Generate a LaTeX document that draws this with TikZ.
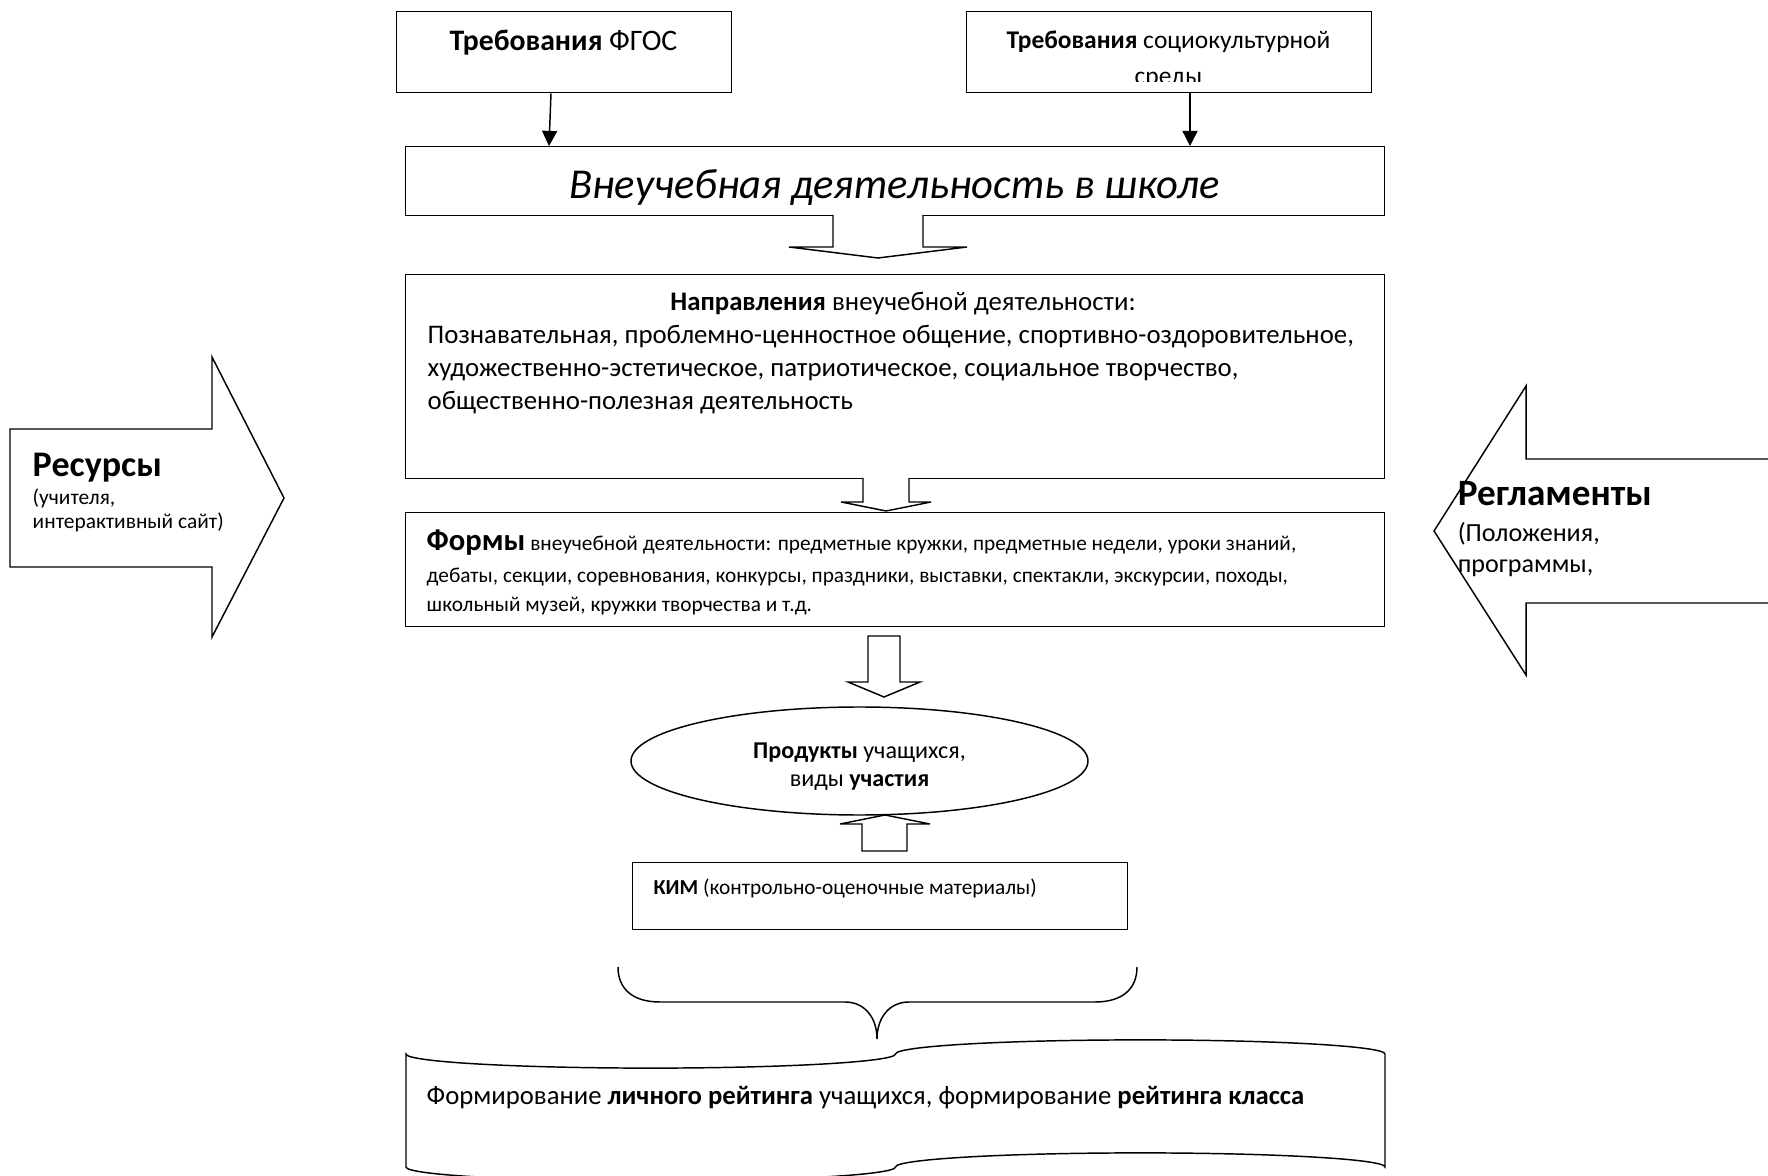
\documentclass[tikz,border=0pt]{standalone}
\usepackage{fontspec}
\setmainfont{Carlito}
\usetikzlibrary{arrows.meta,shapes.geometric,calc}
\def\pxu{0.444pt}
\newcommand\fsz[1]{\fontsize{#1}{#1}\selectfont}
\begin{document}
\begin{tikzpicture}[x=0.444pt,y=-0.444pt,
  line width=0.65pt,
  boxst/.style={draw, rectangle, inner sep=0pt, anchor=north west},
  lbl/.style={inner sep=0pt, anchor=base},
  lblw/.style={inner sep=0pt, anchor=base west},
  conn/.style={-{Triangle[width=6.7pt,length=6.7pt]}},
  blockarr/.style={draw, fill=white, line join=miter},
]
\useasboundingbox (0,0) rectangle (1768,1176);
\fill[white] (0,0) rectangle (1768,1176);
\clip (0,0) rectangle (1768,1176);

% top boxes
\node[boxst, minimum width=335*\pxu, minimum height=81*\pxu] (fgos) at (396,11) {};
\node[boxst, minimum width=405*\pxu, minimum height=81*\pxu] (soc) at (966,11) {};
\node[lbl, font=\fsz{13.2}] (tfgos) at (563.5,51) {\textbf{Требования} ФГОС};
\node[lbl, font=\fsz{11.3}] (tsoc) at (1168.5,49) {\textbf{Требования} социокультурной};
\begin{scope}
\clip (966,60) rectangle (1371,82);
\node[lbl, font=\fsz{11.3}] (tsred) at (1168.5,85) {среды};
\end{scope}

% main box
\node[boxst, minimum width=979*\pxu, minimum height=69*\pxu] (mainbox) at (405,146) {};
\node[lbl, font=\fsz{18.9}] (tmain) at (894.5,199) {\itshape Внеучебная деятельность в школе};

% connectors
\draw[conn] ($(fgos.south west)+(155,0)$) -- ($(mainbox.north west)+(144,0)$);
\draw[conn] ($(soc.south west)+(224,0)$) -- ($(mainbox.north west)+(785,0)$);

% block arrow 1
\draw[blockarr] (833,215) -- (833,247) -- (789,247) -- (878,258) -- (967,247) -- (923,247) -- (923,215);

% directions box
\node[boxst, minimum width=979*\pxu, minimum height=204*\pxu] (dirbox) at (405,274) {};
\node[lbl, font=\fsz{11.9}] (tdir0) at (903,311) {\textbf{Направления} внеучебной деятельности:};
\node[lblw, font=\fsz{11.9}] (tdir1) at (427,344) {Познавательная, проблемно-ценностное общение, спортивно-оздоровительное,};
\node[lblw, font=\fsz{11.9}] (tdir2) at (427,377) {художественно-эстетическое, патриотическое, социальное творчество,};
\node[lblw, font=\fsz{11.9}] (tdir3) at (427,410) {общественно-полезная деятельность};

% block arrow 2
\draw[blockarr] (863,478) -- (863,502) -- (841,502) -- (886,511) -- (931,502) -- (909,502) -- (909,478);

% forms box
\node[boxst, minimum width=979*\pxu, minimum height=114*\pxu] (formbox) at (405,512) {};
\node[lblw, font=\fsz{9.45}] (tform1) at (426,551) {{\fsz{13.6}\textbf{Формы}} внеучебной деятельности: предметные кружки, предметные недели, уроки знаний,};
\node[lblw, font=\fsz{9.45}] (tform2) at (426,583) {дебаты, секции, соревнования, конкурсы, праздники, выставки, спектакли, экскурсии, походы,};
\node[lblw, font=\fsz{9.45}] (tform3) at (426,612) {школьный музей, кружки творчества и т.д.};

% block arrow 3
\draw[blockarr] (868,636) -- (868,682) -- (848,682) -- (884,697) -- (920,682) -- (900,682) -- (900,636) -- cycle;

% ellipse
\node[draw, ellipse, inner sep=0pt, minimum width=457*\pxu, minimum height=108*\pxu] (prod) at (859.5,761) {};
\node[lbl, font=\fsz{10.7}] (tprod1) at (859.5,759) {\textbf{Продукты} учащихся,};
\node[lbl, font=\fsz{10.7}] (tprod2) at (859.5,786) {виды \textbf{участия}};

% block arrow 4 (up)
\draw[blockarr] (862,851) -- (862,824) -- (840,824) -- (885,815) -- (930,824) -- (907,824) -- (907,851) -- cycle;

% KIM box
\node[boxst, minimum width=495*\pxu, minimum height=67*\pxu] (kim) at (632,862) {};
\node[lblw, font=\fsz{9.47}] (tkim) at (653,894) {\textbf{КИМ} (контрольно-оценочные материалы)};

% brace
\draw (618,967) .. controls (618,990) and (634,1002) .. (660,1002) -- (845,1002)
  .. controls (865,1002) and (877,1018) .. (877,1039)
  .. controls (877,1018) and (889,1002) .. (909,1002) -- (1095,1002)
  .. controls (1121,1002) and (1137,990) .. (1137,967);

% banner (punched tape)
\draw[fill=white] (406,1054) arc[start angle=180, end angle=0, x radius=244.75, y radius=14.1]
  arc[start angle=180, end angle=360, x radius=244.75, y radius=14.1]
  -- (1385,1167)
  arc[start angle=0, end angle=-180, x radius=244.75, y radius=14.1]
  arc[start angle=0, end angle=180, x radius=244.75, y radius=14.1]
  -- cycle;
\node[lblw, font=\fsz{11.85}] (tban) at (426,1104) {Формирование \textbf{личного рейтинга} учащихся, формирование \textbf{рейтинга класса}};

% left arrow: resources
\draw[blockarr] (10,429) -- (212,429) -- (212,357) -- (284,498) -- (212,637) -- (212,567) -- (10,567) -- cycle;
\node[lblw, font=\fsz{16}] (tres) at (32,477) {\textbf{Ресурсы}};
\node[lblw, font=\fsz{9.5}] (tres1) at (32,505) {(учителя,};
\node[lblw, font=\fsz{9.5}] (tres2) at (32,529) {интерактивный сайт)};

% right arrow: regulations
\draw[blockarr] (1800,459) -- (1526,459) -- (1526,386) -- (1434,531) -- (1526,675) -- (1526,603) -- (1800,603);
\node[lblw, font=\fsz{16.5}] (treg) at (1457,506) {\textbf{Регламенты}};
\node[lblw, font=\fsz{11.6}] (treg1) at (1457,542) {(Положения,};
\node[lblw, font=\fsz{11.6}] (treg2) at (1457,573) {программы,};
\end{tikzpicture}
\end{document}
